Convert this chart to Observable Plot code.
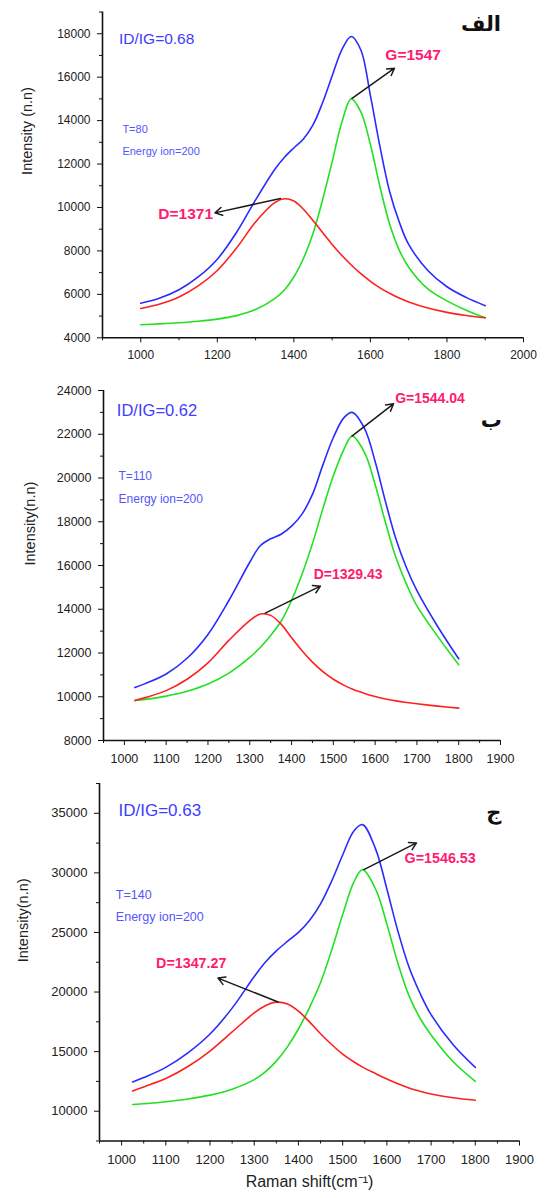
<!DOCTYPE html>
<html><head><meta charset="utf-8">
<script src="https://cdn.jsdelivr.net/npm/d3@7"></script>
<script src="https://cdn.jsdelivr.net/npm/@observablehq/plot@0.6"></script>
<style>
body{margin:0;background:#fff;}
#wrap{position:relative;width:546px;height:1198px;overflow:hidden;background:#fff;}
.panel{position:absolute;left:0;}
</style></head><body><div id="wrap"></div>
<script>
// ---------- data ----------
// Panel الف (T=80)
const shift1 = [1000,1050,1100,1150,1200,1250,1300,1350,1375,1400,1425,1450,1475,1500,1525,1550,1575,1600,1625,1650,1675,1700,1750,1800,1850,1900];
const total1 = [5590,5830,6210,6800,7620,8850,10350,11750,12300,12740,13150,13800,14820,16050,17250,17870,17250,15150,12800,10750,9350,8300,7100,6350,5860,5480];
const dBand1 = [5350,5560,5880,6390,7100,8130,9330,10220,10400,10300,9920,9400,8850,8300,7800,7350,6950,6600,6300,6050,5830,5650,5370,5170,5030,4923];
const gBand1 = [4600,4640,4690,4760,4860,5020,5300,5800,6200,6800,7650,8800,10350,12100,13900,15000,14400,12900,10950,9250,8050,7250,6250,5700,5270,4923];

// Panel ب (T=110)
const shift2 = [1025,1050,1100,1150,1200,1250,1300,1325,1350,1375,1400,1425,1450,1475,1500,1525,1545,1575,1600,1625,1650,1675,1700,1750,1800];
const total2 = [10420,10600,11040,11760,12850,14400,16150,16900,17220,17430,17800,18350,19250,20600,21850,22750,23000,22250,20750,18900,17200,15900,14850,13200,11734];
const dBand2 = [9829,9960,10280,10800,11550,12580,13480,13780,13720,13320,12700,12100,11580,11150,10800,10530,10350,10150,10010,9900,9810,9740,9680,9570,9478];
const gBand2 = [9829,9880,10030,10250,10580,11080,11800,12250,12800,13450,14400,15600,17000,18600,20100,21300,21914,21150,19700,17950,16350,15150,14150,12750,11459];

// Panel ج (T=140)
const shift3 = [1025,1050,1100,1150,1200,1250,1300,1325,1350,1375,1400,1425,1450,1475,1500,1525,1545,1575,1600,1625,1650,1675,1700,1750,1800];
const total3 = [12460,12820,13680,14900,16480,18650,21300,22500,23450,24250,25000,26000,27400,29300,31500,33500,34050,31950,28650,25100,22100,19900,18100,15580,13680];
const dBand3 = [11700,12040,12740,13750,15050,16650,18250,18850,19150,19000,18400,17500,16500,15600,14800,14150,13700,13150,12700,12300,11950,11680,11450,11130,10920];
const gBand3 = [10560,10630,10800,11030,11350,11850,12650,13300,14200,15400,16900,18700,20800,23500,26500,29200,30270,28600,25700,22400,19700,17800,16400,14150,12510];

// Text content
const panelLetters = ["الف", "ب", "ج"];
const ratioLabels = ["ID/IG=0.68", "ID/IG=0.62", "ID/IG=0.63"];
const tempLabels = ["T=80", "T=110", "T=140"];
const energyLabel = "Energy ion=200";
const gLabels = ["G=1547", "G=1544.04", "G=1546.53"];
const dLabels = ["D=1371", "D=1329.43", "D=1347.27"];
const yTitles = ["Intensity (n.n)", "Intensity(n.n)", "Intensity(n.n)"];
const xTitle = "Raman shift(cm⁻¹)";

// Axis ticks
const xMajor1 = [1000,1200,1400,1600,1800,2000];
const xMinor1 = [900,1100,1300,1500,1700,1900];
const yMajor1 = [4000,6000,8000,10000,12000,14000,16000,18000];
const yMinor1 = [5000,7000,9000,11000,13000,15000,17000,19000];
const xMajor23 = [1000,1100,1200,1300,1400,1500,1600,1700,1800,1900];
const xMinor23 = [950,1050,1150,1250,1350,1450,1550,1650,1750,1850];
const yMajor2 = [8000,10000,12000,14000,16000,18000,20000,22000,24000];
const yMinor2 = [9000,11000,13000,15000,17000,19000,21000,23000];
const yMajor3 = [10000,15000,20000,25000,30000,35000];
const yMinor3 = [7500,12500,17500,22500,27500,32500,37500];

// Annotation anchors (data coordinates)
const annot = [
  {info:[943,952,17750,13597,12597], g:[1552,15027,1663,16412,1639,17000], d:[1365,10413,1194,9752,1189,9690,"end"], letter:[1889,18420]},
  {info:[982,986,23088,20085,19018], g:[1544.5,21914,1644,23392,1648,23651], d:[1337,13822,1469,15056,1453,15574,"start"], letter:[1878,22630]},
  {info:[993,987,35221,28182,26283], g:[1548,30277,1667,32512,1640,31171], d:[1354,19161,1218,21172,1078,22373,"start"], letter:[1842,35081]}
];

// ---------- drawing ----------
const FONT = "'Liberation Sans', Arial, Helvetica, sans-serif";
const BLUE = "#2b2bff", RED = "#ff2020", GREEN = "#22e022", PINK = "#ff1a72", INFO = "#3d3dff";
const pts = (xs, ys) => xs.map((x, i) => ({x, y: ys[i]}));

function panel(i, cfg) {
  const a = annot[i];
  const fmt = d3.format("d");
  const marks = [
    Plot.ruleX([cfg.xDomain[0]], {stroke: "#111", strokeWidth: 1.6}),
    Plot.ruleY([cfg.yDomain[0]], {stroke: "#111", strokeWidth: 1.6}),
    Plot.axisX({ticks: cfg.xMajor, tickSize: 5, tickPadding: cfg.xPad, tickFormat: fmt, fontSize: cfg.tickFont, label: null, fill: "#222"}),
    Plot.axisX({ticks: cfg.xMinor, tickSize: 3, text: null, label: null}),
    Plot.axisY({ticks: cfg.yMajor, tickSize: 5, tickPadding: 7, tickFormat: fmt, fontSize: cfg.tickFont, label: null, fill: "#222"}),
    Plot.axisY({ticks: cfg.yMinor, tickSize: 3, text: null, label: null}),
    Plot.line(pts(cfg.xs, cfg.g), {x: "x", y: "y", stroke: GREEN, strokeWidth: 1.6, curve: "catmull-rom"}),
    Plot.line(pts(cfg.xs, cfg.d), {x: "x", y: "y", stroke: RED, strokeWidth: 1.6, curve: "catmull-rom"}),
    Plot.line(pts(cfg.xs, cfg.t), {x: "x", y: "y", stroke: BLUE, strokeWidth: 1.6, curve: "catmull-rom"}),
    Plot.arrow([{x1: a.g[0], y1: a.g[1], x2: a.g[2], y2: a.g[3]}, {x1: a.d[0], y1: a.d[1], x2: a.d[2], y2: a.d[3]}],
      {x1: "x1", y1: "y1", x2: "x2", y2: "y2", stroke: "#1a1a1a", strokeWidth: 1.5, headLength: 8}),
    Plot.text([{x: a.info[0], y: a.info[2], t: ratioLabels[i]}], {x: "x", y: "y", text: "t", textAnchor: "start", fill: INFO, fontSize: cfg.ratioFont}),
    Plot.text([{x: a.info[1], y: a.info[3], t: tempLabels[i]}, {x: a.info[1], y: a.info[4], t: energyLabel}],
      {x: "x", y: "y", text: "t", textAnchor: "start", fill: "#5555ff", fontSize: cfg.infoFont}),
    Plot.text([{x: a.g[4], y: a.g[5], t: gLabels[i]}], {x: "x", y: "y", text: "t", textAnchor: "start", fill: PINK, fontWeight: "bold", fontSize: cfg.peakFont}),
    Plot.text([{x: a.d[4], y: a.d[5], t: dLabels[i]}], {x: "x", y: "y", text: "t", textAnchor: a.d[6], fill: PINK, fontWeight: "bold", fontSize: cfg.peakFont}),
    Plot.text([{x: a.letter[0], y: a.letter[1], t: panelLetters[i]}], {x: "x", y: "y", text: "t", fill: "#111", fontWeight: "bold", fontSize: 21, fontFamily: "'DejaVu Sans', sans-serif"}),
    Plot.text([yTitles[i]], {frameAnchor: "left", rotate: -90, dx: cfg.yTitleDx, fontSize: 14.5, fill: "#222"})
  ];
  if (cfg.xTitle) marks.push(Plot.text([xTitle], {frameAnchor: "bottom", dy: 46, fontSize: 16, fill: "#222"}));
  const svg = Plot.plot({
    width: 546, height: cfg.height,
    marginTop: cfg.mt, marginBottom: cfg.mb, marginLeft: cfg.ml, marginRight: cfg.mr,
    x: {domain: cfg.xDomain}, y: {domain: cfg.yDomain},
    style: {fontFamily: FONT, background: "transparent", overflow: "visible", color: "#111"},
    marks
  });
  const div = document.createElement("div");
  div.className = "panel";
  div.style.top = cfg.top + "px";
  div.appendChild(svg);
  document.getElementById("wrap").appendChild(div);
}

panel(0, {top: 0, height: 375, mt: 11.5, mb: 37.7, ml: 102, mr: 23, xDomain: [900, 2000], yDomain: [4000, 19000],
  xMajor: xMajor1, xMinor: xMinor1, yMajor: yMajor1, yMinor: yMinor1, xs: shift1, t: total1, d: dBand1, g: gBand1,
  tickFont: 12, xPad: 8, ratioFont: 15.5, infoFont: 11, peakFont: 15.5, yTitleDx: -75});
panel(1, {top: 375, height: 400, mt: 15, mb: 35, ml: 103, mr: 46, xDomain: [950, 1900], yDomain: [8000, 24000],
  xMajor: xMajor23, xMinor: xMinor23, yMajor: yMajor2, yMinor: yMinor2, xs: shift2, t: total2, d: dBand2, g: gBand2,
  tickFont: 12.5, xPad: 9, ratioFont: 16.5, infoFont: 12, peakFont: 14, yTitleDx: -73});
panel(2, {top: 775, height: 423, mt: 8, mb: 57.5, ml: 99, mr: 27, xDomain: [950, 1900], yDomain: [7500, 37500],
  xMajor: xMajor23, xMinor: xMinor23, yMajor: yMajor3, yMinor: yMinor3, xs: shift3, t: total3, d: dBand3, g: gBand3,
  tickFont: 13, xPad: 9, ratioFont: 17, infoFont: 12.5, peakFont: 14.3, yTitleDx: -76, xTitle: true});
</script>
</body></html>
